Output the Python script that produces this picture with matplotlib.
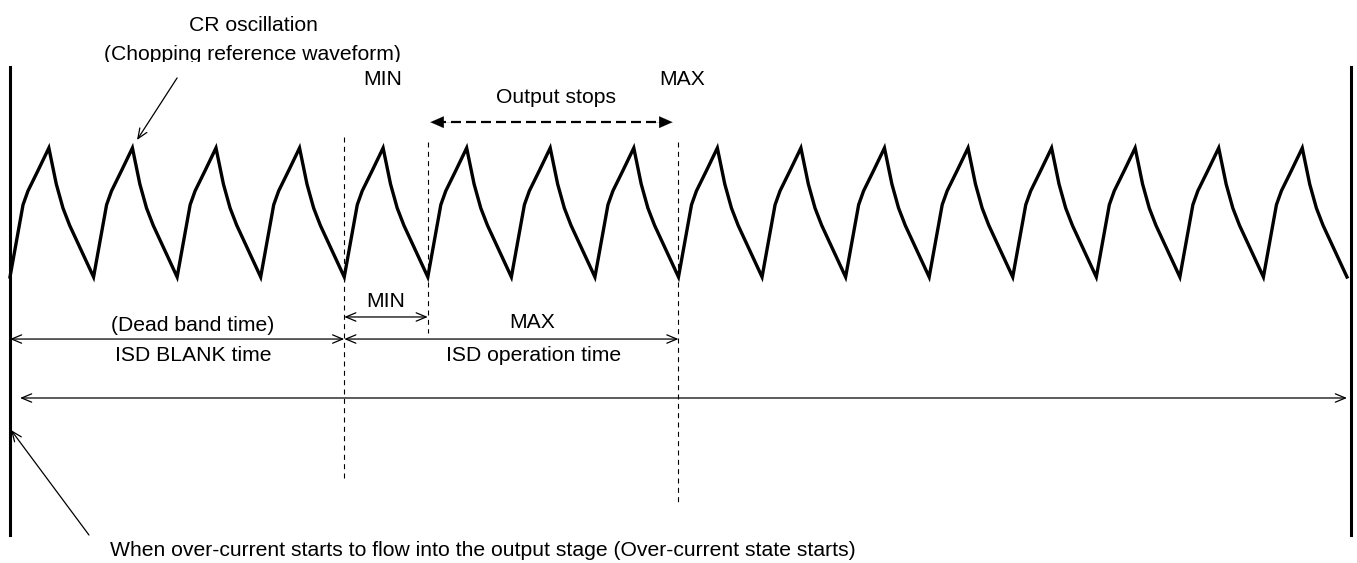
import numpy as np
import matplotlib
matplotlib.use("Agg")
import matplotlib.pyplot as plt
from matplotlib.patches import Rectangle

# one CR cycle: time in cycles, level 0 = valley, 1 = peak
cycle_t = [0.0, 0.075, 0.156, 0.215, 0.335, 0.465, 0.554, 0.634, 0.714, 1.0]
cycle_level = [0.0, 0.27, 0.56, 0.667, 0.825, 1.0, 0.72, 0.534, 0.40, 0.0]
n_cycles = 16

# timing marks, in CR cycles from over-current start
blank_end = 4      # ISD BLANK time (dead band) ends
op_min = 5         # ISD operation time MIN
op_max = 8         # ISD operation time MAX
total_end = 16

labels = {
	"cr": "CR oscillation",
	"chop": "(Chopping reference waveform)",
	"min": "MIN",
	"max": "MAX",
	"stops": "Output stops",
	"dead": "(Dead band time)",
	"blank": "ISD BLANK time",
	"op": "ISD operation time",
	"start": "When over-current starts to flow into the output stage (Over-current state starts)",
}

plt.rcParams['font.family'] = ['Liberation Sans', 'DejaVu Sans']
FS = 15.25

fig = plt.figure(figsize=(13.57, 5.63), dpi=100)
ax = fig.add_axes([0, 0, 1, 1])
ax.set_xlim(-0.1197, 16.12)
ax.set_ylim(-2.217, 2.147)
ax.axis('off')

# waveform: repeat the cycle shape
wx, wy = [], []
for k in range(n_cycles):
	for t, lv in zip(cycle_t, cycle_level):
		if k > 0 and t == 0.0:
			continue
		wx.append(k + t)
		wy.append(lv)
ax.plot(wx, wy, color='black', lw=2.4, solid_joinstyle='miter', zorder=3)

# solid bounds
ax.plot([0, 0], [1.628, -2.0], color='black', lw=2.2)
ax.plot([16.05, 16.05], [1.628, -2.0], color='black', lw=2.2)

# dashed timing lines
dash = (0, (4.5, 3.9))
ax.plot([blank_end, blank_end], [1.085, -1.589], color='black', lw=0.8, linestyle=dash)
ax.plot([op_min, op_min], [1.047, -0.434], color='black', lw=0.8, linestyle=dash)
ax.plot([op_max, op_max], [1.047, -1.744], color='black', lw=0.8, linestyle=dash)

# top labels
ax.text(2.91, 1.907, labels["cr"], fontsize=FS, ha='center', va='baseline')
ax.text(2.90, 1.682, labels["chop"], fontsize=FS, ha='center', va='baseline')
# the original image clips the descenders of this line
ax.add_patch(Rectangle((1.0, 1.632), 4.0, 0.036, color='white', zorder=5, lw=0))
ax.annotate('', xy=(1.52, 1.062), xytext=(2.0, 1.543),
	arrowprops=dict(arrowstyle='->,head_length=0.6,head_width=0.25', lw=0.9,
		mutation_scale=12, shrinkA=0, shrinkB=0, color='black'))

ax.text(4.46, 1.488, labels["min"], fontsize=FS, ha='center', va='baseline')
ax.text(8.05, 1.488, labels["max"], fontsize=FS, ha='center', va='baseline')
ax.text(6.53, 1.349, labels["stops"], fontsize=FS, ha='center', va='baseline')

# output stops dashed arrow
ax.plot([op_min + 0.1, op_max - 0.15], [1.20, 1.20], color='black', lw=1.6,
	linestyle=(0, (4.5, 2.25)))
for tip, back in [(op_min + 0.03, op_min + 0.3), (op_max - 0.07, op_max - 0.35)]:
	ax.annotate('', xy=(tip, 1.20), xytext=(back, 1.20),
		arrowprops=dict(arrowstyle='-|>,head_length=0.8,head_width=0.35', lw=0.1,
			mutation_scale=12, shrinkA=0, shrinkB=0, color='black'))

# lower timing arrows
thin = dict(arrowstyle='<->,head_length=0.6,head_width=0.25', lw=0.9,
	mutation_scale=12, shrinkA=0, shrinkB=0, color='black')
ax.annotate('', xy=(blank_end, -0.31), xytext=(op_min, -0.31), arrowprops=thin)
ax.text(4.49, -0.233, labels["min"], fontsize=FS, ha='center', va='baseline')

ax.annotate('', xy=(0, -0.481), xytext=(blank_end, -0.481), arrowprops=thin)
ax.annotate('', xy=(blank_end, -0.481), xytext=(op_max, -0.481), arrowprops=thin)
ax.text(2.18, -0.419, labels["dead"], fontsize=FS, ha='center', va='baseline')
ax.text(2.19, -0.651, labels["blank"], fontsize=FS, ha='center', va='baseline')
ax.text(6.25, -0.395, labels["max"], fontsize=FS, ha='center', va='baseline')
ax.text(6.26, -0.651, labels["op"], fontsize=FS, ha='center', va='baseline')

# full span arrow
ax.annotate('', xy=(0.12, -0.938), xytext=(total_end, -0.938), arrowprops=thin)

# over-current start leader
ax.annotate('', xy=(0.012, -1.186), xytext=(0.945, -2.0),
	arrowprops=dict(arrowstyle='->,head_length=0.6,head_width=0.25', lw=0.9,
		mutation_scale=12, shrinkA=0, shrinkB=0, color='black'))
ax.text(1.197, -2.163, labels["start"], fontsize=FS, ha='left', va='baseline')

fig.savefig('out.png', dpi=100)
